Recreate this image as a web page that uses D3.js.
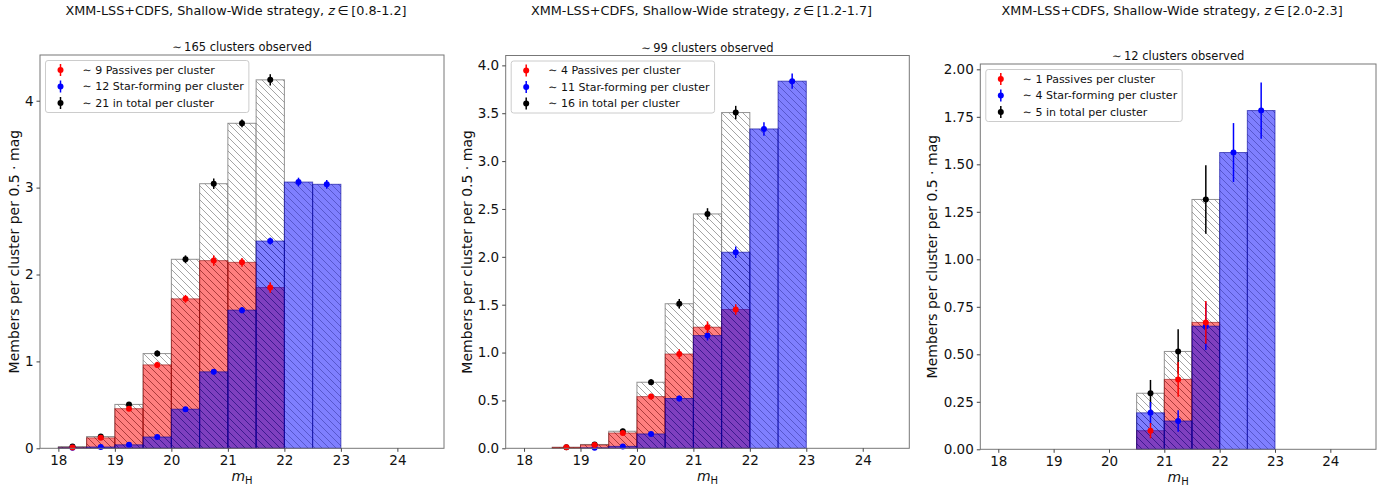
<!DOCTYPE html>
<html>
<head>
<meta charset="utf-8">
<script src="https://cdn.jsdelivr.net/npm/d3@7"></script>
<style>
  body { margin: 0; background: #fff; }
  svg { display: block; font-family: "DejaVu Sans", sans-serif; }
</style>
</head>
<body>
<div id="chart"></div>
<script>
// bins of 0.5 mag, left edges
const binLefts = [18, 18.5, 19, 19.5, 20, 20.5, 21, 21.5, 22, 22.5, 23, 23.5, 24];
const xTicks = [18, 19, 20, 21, 22, 23, 24];

// z in [0.8-1.2]
const p1Total      = [0.02, 0.135, 0.505, 1.09, 2.175, 3.045, 3.74, 4.24, 0, 0, 0, 0, 0];
const p1TotalErr   = [0.01, 0.02, 0.025, 0.035, 0.045, 0.06, 0.045, 0.065, 0, 0, 0, 0, 0];
const p1Passive    = [0.01, 0.12, 0.456, 0.96, 1.72, 2.16, 2.14, 1.85, 0, 0, 0, 0, 0];
const p1PassiveErr = [0.01, 0.02, 0.025, 0.035, 0.045, 0.06, 0.05, 0.06, 0, 0, 0, 0, 0];
const p1SF         = [0.005, 0.015, 0.04, 0.13, 0.45, 0.88, 1.59, 2.385, 3.064, 3.038, 0, 0, 0];
const p1SFErr      = [0.005, 0.008, 0.012, 0.02, 0.025, 0.03, 0.035, 0.04, 0.05, 0.05, 0, 0, 0];

// z in [1.2-1.7]
const p2Total      = [0, 0.01, 0.04, 0.178, 0.69, 1.51, 2.448, 3.507, 0, 0, 0, 0, 0];
const p2TotalErr   = [0, 0.01, 0.015, 0.025, 0.03, 0.05, 0.06, 0.07, 0, 0, 0, 0, 0];
const p2Passive    = [0, 0.01, 0.035, 0.16, 0.54, 0.985, 1.265, 1.45, 0, 0, 0, 0, 0];
const p2PassiveErr = [0, 0.01, 0.015, 0.02, 0.03, 0.05, 0.06, 0.055, 0, 0, 0, 0, 0];
const p2SF         = [0, 0, 0.005, 0.02, 0.15, 0.52, 1.177, 2.048, 3.336, 3.835, 0, 0, 0];
const p2SFErr      = [0, 0, 0.005, 0.01, 0.02, 0.03, 0.05, 0.06, 0.07, 0.08, 0, 0, 0];

// z in [2.0-2.3]
const p3Total      = [0, 0, 0, 0, 0, 0.295, 0.515, 1.315, 0, 0, 0, 0, 0];
const p3TotalErr   = [0, 0, 0, 0, 0, 0.07, 0.117, 0.18, 0, 0, 0, 0, 0];
const p3Passive    = [0, 0, 0, 0, 0, 0.098, 0.368, 0.668, 0, 0, 0, 0, 0];
const p3PassiveErr = [0, 0, 0, 0, 0, 0.04, 0.092, 0.113, 0, 0, 0, 0, 0];
const p3SF         = [0, 0, 0, 0, 0, 0.192, 0.149, 0.648, 1.562, 1.783, 0, 0, 0];
const p3SFErr      = [0, 0, 0, 0, 0, 0.057, 0.057, 0.125, 0.155, 0.148, 0, 0, 0];

const redshiftRanges = ['[0.8-1.2]', '[1.2-1.7]', '[2.0-2.3]'];
const clustersObserved = [165, 99, 12];
const passivesPerCluster = [9, 4, 1];
const starFormingPerCluster = [12, 11, 4];
const totalPerCluster = [21, 16, 5];

const yTicksP1 = [0, 1, 2, 3, 4];
const yTicksP2 = [0, 0.5, 1, 1.5, 2, 2.5, 3, 3.5, 4];
const yTicksP3 = [0, 0.25, 0.5, 0.75, 1, 1.25, 1.5, 1.75, 2];

const panels = [
  { total: p1Total, totalErr: p1TotalErr, passive: p1Passive, passiveErr: p1PassiveErr, sf: p1SF, sfErr: p1SFErr,
    yTicks: yTicksP1, yFmt: d3.format('d'), yMax: 4.526,
    box: { left: 40, right: 444, top: 55, bottom: 448.3 }, ylabelOff: 25.7 },
  { total: p2Total, totalErr: p2TotalErr, passive: p2Passive, passiveErr: p2PassiveErr, sf: p2SF, sfErr: p2SFErr,
    yTicks: yTicksP2, yFmt: d3.format('.1f'), yMax: 4.103,
    box: { left: 505.7, right: 909.3, top: 55.5, bottom: 448.3 }, ylabelOff: 38.5 },
  { total: p3Total, totalErr: p3TotalErr, passive: p3Passive, passiveErr: p3PassiveErr, sf: p3SF, sfErr: p3SFErr,
    yTicks: yTicksP3, yFmt: d3.format('.2f'), yMax: 2.028,
    box: { left: 980.3, right: 1376, top: 64, bottom: 449.3 }, ylabelOff: 47.8 },
];

const svg = d3.select('#chart').append('svg')
  .attr('width', 1399).attr('height', 494);

// hatch patterns ('\\' style)
const defs = svg.append('defs');
function hatch(id, color, w) {
  const s = 7;
  defs.append('pattern')
    .attr('id', id).attr('patternUnits', 'userSpaceOnUse')
    .attr('width', s).attr('height', s)
    .append('path')
    .attr('d', `M0,0L${s},${s}M-1,${s - 1}L1,${s + 1}M${s - 1},-1L${s + 1},1`)
    .attr('stroke', color).attr('stroke-width', w).attr('fill', 'none');
}
hatch('hTotal', 'rgba(70,70,70,0.65)', 0.75);
hatch('hRed', 'rgba(110,20,20,0.45)', 0.85);
hatch('hBlue', 'rgba(20,20,120,0.45)', 0.85);

panels.forEach((p, i) => {
  const b = p.box;
  const x = d3.scaleLinear().domain([17.675, 24.825]).range([b.left, b.right]);
  const y = d3.scaleLinear().domain([0, p.yMax]).range([b.bottom, b.top]);
  const g = svg.append('g');
  const cx = (b.left + b.right) / 2;

  // figure title
  const t = g.append('text')
    .attr('x', cx - 6).attr('y', 15)
    .attr('text-anchor', 'middle').style('font-size', '12.8px').attr('fill', '#111');
  t.append('tspan').text('XMM-LSS+CDFS, Shallow-Wide strategy, ');
  t.append('tspan').style('font-style', 'italic').text('z');
  t.append('tspan').text('\u2009\u2208\u2009' + redshiftRanges[i]);

  g.append('text')
    .attr('x', cx).attr('y', b.top - 4)
    .attr('text-anchor', 'middle').style('font-size', '11.5px').attr('fill', '#111')
    .text(`\u223C\u2009${clustersObserved[i]} clusters observed`);

  const bars = (vals, fill, pat, edge) => {
    const gg = g.append('g');
    binLefts.forEach((l, k) => {
      const x0 = x(l), x1 = x(l + 0.5), y0 = y(vals[k]);
      const h = b.bottom - y0;
      gg.append('rect').attr('x', x0).attr('y', y0).attr('width', x1 - x0).attr('height', h).attr('fill', fill);
      gg.append('rect').attr('x', x0).attr('y', y0).attr('width', x1 - x0).attr('height', h).attr('fill', `url(#${pat})`);
      gg.append('rect').attr('x', x0).attr('y', y0).attr('width', x1 - x0).attr('height', h)
        .attr('fill', 'none').attr('stroke', edge).attr('stroke-width', 1);
    });
  };
  bars(p.total, '#fff', 'hTotal', 'rgba(120,120,120,0.8)');
  bars(p.passive, 'rgba(255,0,0,0.5)', 'hRed', 'rgba(140,0,0,0.55)');
  bars(p.sf, 'rgba(0,0,255,0.5)', 'hBlue', 'rgba(0,0,150,0.6)');

  const errs = (vals, err, color) => {
    const gg = g.append('g');
    binLefts.forEach((l, k) => {
      if (vals[k] <= 0) return;
      const px = x(l + 0.25);
      gg.append('line').attr('x1', px).attr('x2', px)
        .attr('y1', y(vals[k] - err[k])).attr('y2', y(vals[k] + err[k]))
        .attr('stroke', color).attr('stroke-width', 1.5);
      gg.append('circle').attr('cx', px).attr('cy', y(vals[k])).attr('r', 3).attr('fill', color);
    });
  };
  errs(p.total, p.totalErr, '#000');
  errs(p.sf, p.sfErr, '#0000ff');
  errs(p.passive, p.passiveErr, '#ff0000');

  // frame
  g.append('rect').attr('x', b.left).attr('y', b.top)
    .attr('width', b.right - b.left).attr('height', b.bottom - b.top)
    .attr('fill', 'none').attr('stroke', '#777').attr('stroke-width', 1);

  // axes
  const ax = g.append('g').attr('transform', `translate(0,${b.bottom})`)
    .call(d3.axisBottom(x).tickValues(xTicks).tickSize(3.5).tickPadding(4).tickFormat(d3.format('d')));
  const ay = g.append('g').attr('transform', `translate(${b.left},0)`)
    .call(d3.axisLeft(y).tickValues(p.yTicks).tickSize(3.5).tickPadding(3).tickFormat(p.yFmt));
  [ax, ay].forEach(a => {
    a.select('.domain').remove();
    a.selectAll('line').attr('stroke', '#444');
    a.selectAll('text').attr('fill', '#111').style('font-size', '13.5px').style('font-family', '"DejaVu Sans", sans-serif');
  });

  // axis labels
  const xl = g.append('text').attr('x', cx).attr('y', b.bottom + 33)
    .attr('text-anchor', 'middle').style('font-size', '14px').attr('fill', '#111');
  xl.append('tspan').style('font-style', 'italic').text('m');
  xl.append('tspan').attr('dy', 3).style('font-size', '10px').text('H');

  g.append('text')
    .attr('transform', `translate(${b.left - p.ylabelOff},${(b.top + b.bottom) / 2}) rotate(-90)`)
    .attr('text-anchor', 'middle').attr('dy', '0.35em')
    .style('font-size', '14px').attr('fill', '#111')
    .text('Members per cluster per 0.5 \u00B7 mag');

  // legend
  const lx = b.left + 5.5, ly = b.top + 5.5;
  const lg = g.append('g');
  const frame = lg.append('rect').attr('x', lx).attr('y', ly).attr('rx', 2.5).attr('ry', 2.5)
    .attr('height', 52).attr('fill', 'rgba(255,255,255,0.8)').attr('stroke', '#ccc').attr('stroke-width', 1);
  const entries = [
    [`\u223C ${passivesPerCluster[i]} Passives per cluster`, '#ff0000'],
    [`\u223C ${starFormingPerCluster[i]} Star-forming per cluster`, '#0000ff'],
    [`\u223C ${totalPerCluster[i]} in total per cluster`, '#000'],
  ];
  let maxW = 0;
  entries.forEach(([label, color], k) => {
    const ry = ly + 9.5 + k * 16.5;
    lg.append('line').attr('x1', lx + 15).attr('x2', lx + 15).attr('y1', ry - 6).attr('y2', ry + 6)
      .attr('stroke', color).attr('stroke-width', 1.5);
    lg.append('circle').attr('cx', lx + 15).attr('cy', ry).attr('r', 3).attr('fill', color);
    const tx = lg.append('text').attr('x', lx + 37).attr('y', ry).attr('dy', '0.35em')
      .style('font-size', '11px').attr('fill', '#111').text(label);
    maxW = Math.max(maxW, tx.node().getComputedTextLength());
  });
  frame.attr('width', 37 + maxW + 5);
});
</script>
</body>
</html>
